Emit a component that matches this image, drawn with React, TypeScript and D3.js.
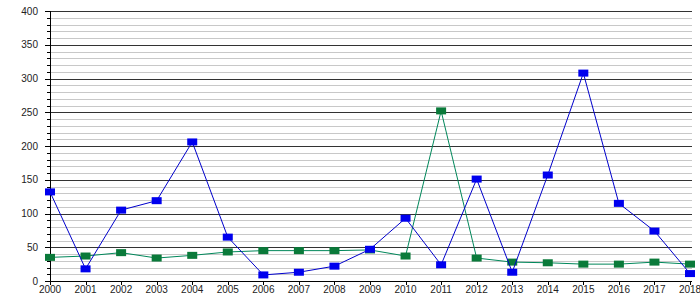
import React from "react";
import * as d3 from "d3";

const years = [2000, 2001, 2002, 2003, 2004, 2005, 2006, 2007, 2008, 2009, 2010, 2011, 2012, 2013, 2014, 2015, 2016, 2017, 2018];
const blueValues = [132, 18, 105, 119, 206, 65, 9, 13, 22, 47, 93, 24, 151, 13, 157, 308, 115, 74, 11];
const greenValues = [35, 37, 42, 34, 38, 43, 45, 45, 45, 46, 37, 252, 34, 28, 27, 25, 25, 28, 25];
const majorTicks = [0, 50, 100, 150, 200, 250, 300, 350, 400];
const minorTicks = d3.range(0, 401, 10);

const W = 700;
const H = 300;
const left = 50;
const right = 690;
const top = 11;
const bottom = 281;

export default function App() {
  const x = d3.scaleLinear().domain([2000, 2018]).range([left, right]);
  const y = d3.scaleLinear().domain([0, 400]).range([bottom, top]);
  const line = d3
    .line<number>()
    .x((_, i) => x(years[i]))
    .y((d) => y(d));
  const font = "'Liberation Sans', Arial, sans-serif";
  const series = [
    { values: greenValues, line: "#00875a", marker: "#0a7a3a" },
    { values: blueValues, line: "#0000cc", marker: "#0000ee" },
  ];
  return (
    <div style={{ position: "absolute", left: 0, top: 0 }}>
      <svg width={W} height={H} style={{ display: "block", background: "#fff" }}>
        {minorTicks
          .filter((v) => v % 50 !== 0)
          .map((v) => (
            <line key={"g" + v} x1={left} x2={692} y1={Math.round(y(v)) + 0.5} y2={Math.round(y(v)) + 0.5} stroke="#c8c8c8" strokeWidth={1} />
          ))}
        {majorTicks.map((v) => (
          <line key={"G" + v} x1={left} x2={692} y1={Math.round(y(v)) + 0.5} y2={Math.round(y(v)) + 0.5} stroke="#333" strokeWidth={1} />
        ))}
        {minorTicks.map((v) => (
          <line
            key={"t" + v}
            x1={v % 50 === 0 ? left - 5 : left - 3}
            x2={left}
            y1={Math.round(y(v)) + 0.5}
            y2={Math.round(y(v)) + 0.5}
            stroke="#000"
            strokeWidth={1}
          />
        ))}
        <line x1={left + 0.5} x2={left + 0.5} y1={top} y2={bottom + 1} stroke="#000" strokeWidth={1} />
        <line x1={left} x2={692} y1={bottom + 0.5} y2={bottom + 0.5} stroke="#000" strokeWidth={1} />
        {years.map((yr) => (
          <line key={"xt" + yr} x1={Math.round(x(yr)) + 0.5} x2={Math.round(x(yr)) + 0.5} y1={bottom} y2={bottom + 4} stroke="#000" strokeWidth={1} />
        ))}
        {majorTicks.map((v) => (
          <text key={"yl" + v} x={38} y={y(v) + 3.5} textAnchor="end" fontFamily={font} fontSize={10} fill="#222">
            {v}
          </text>
        ))}
        {years.map((yr) => (
          <text key={"xl" + yr} x={x(yr)} y={293} textAnchor="middle" fontFamily={font} fontSize={10} fill="#222">
            {yr}
          </text>
        ))}
        {series.map((s, si) => (
          <g key={"s" + si}>
            <path d={line(s.values) || ""} fill="none" stroke={s.line} strokeWidth={1} />
            {s.values.map((v, i) => (
              <rect key={i} x={x(years[i]) - 5} y={y(v) - 3.5} width={10} height={7} fill={s.marker} />
            ))}
          </g>
        ))}
      </svg>
    </div>
  );
}
